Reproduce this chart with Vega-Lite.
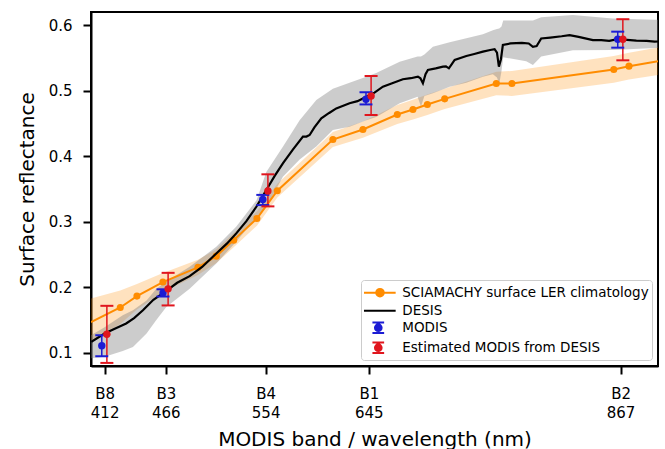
{
  "$schema": "https://vega.github.io/schema/vega-lite/v6.json",
  "width": 567,
  "height": 354,
  "autosize": {"type": "none"},
  "padding": {"left": 91, "top": 12, "right": 7, "bottom": 83},
  "background": "white",
  "config": {
    "font": "DejaVu Sans",
    "view": {"stroke": "black", "strokeWidth": 2},
    "axis": {
      "grid": false,
      "domainColor": "black",
      "domainWidth": 2,
      "tickColor": "black",
      "tickWidth": 2,
      "tickSize": 8,
      "labelFont": "DejaVu Sans",
      "labelFontSize": 15,
      "labelColor": "black",
      "titleFont": "DejaVu Sans",
      "titleFontSize": 20,
      "titleFontWeight": "normal",
      "titleColor": "black"
    },
    "axisX": {"labelPadding": 12, "titlePadding": 9},
    "axisY": {"labelPadding": 11, "titlePadding": 11}
  },
  "datasets": {
    "desis": [
      {"wl": 400.3, "y": 0.1168}, {"wl": 412, "y": 0.1296}, {"wl": 420, "y": 0.136}, {"wl": 431, "y": 0.1449},
      {"wl": 438, "y": 0.153}, {"wl": 445.8, "y": 0.165}, {"wl": 455, "y": 0.181}, {"wl": 466.4, "y": 0.1947},
      {"wl": 476, "y": 0.207}, {"wl": 487, "y": 0.217}, {"wl": 498, "y": 0.231}, {"wl": 510.5, "y": 0.2517},
      {"wl": 520, "y": 0.267}, {"wl": 528.1, "y": 0.2823}, {"wl": 537, "y": 0.301}, {"wl": 545.8, "y": 0.3229},
      {"wl": 554.6, "y": 0.3484}, {"wl": 562, "y": 0.37}, {"wl": 569.2, "y": 0.389}, {"wl": 578, "y": 0.41},
      {"wl": 586.9, "y": 0.4298}, {"wl": 590, "y": 0.43}, {"wl": 592.8, "y": 0.4324}, {"wl": 597, "y": 0.444},
      {"wl": 603.1, "y": 0.4579}, {"wl": 610, "y": 0.466}, {"wl": 616.3, "y": 0.473}, {"wl": 628, "y": 0.4808},
      {"wl": 635, "y": 0.484}, {"wl": 642.8, "y": 0.4908}, {"wl": 650, "y": 0.497}, {"wl": 657.4, "y": 0.5061},
      {"wl": 665, "y": 0.511}, {"wl": 675, "y": 0.5174}, {"wl": 682, "y": 0.519}, {"wl": 688.3, "y": 0.5214},
      {"wl": 690.5, "y": 0.519}, {"wl": 692.7, "y": 0.5113}, {"wl": 695, "y": 0.525}, {"wl": 697.1, "y": 0.5316},
      {"wl": 704, "y": 0.534}, {"wl": 710.4, "y": 0.5366}, {"wl": 713, "y": 0.537}, {"wl": 715.6, "y": 0.5341},
      {"wl": 718, "y": 0.54}, {"wl": 720.7, "y": 0.5469}, {"wl": 731, "y": 0.5529}, {"wl": 738, "y": 0.556},
      {"wl": 745.6, "y": 0.5595}, {"wl": 752, "y": 0.562}, {"wl": 755.9, "y": 0.5632}, {"wl": 758, "y": 0.558},
      {"wl": 759.7, "y": 0.5366}, {"wl": 761.5, "y": 0.548}, {"wl": 763.2, "y": 0.5698}, {"wl": 770, "y": 0.572},
      {"wl": 780, "y": 0.573}, {"wl": 786, "y": 0.572}, {"wl": 789.7, "y": 0.567}, {"wl": 793, "y": 0.568},
      {"wl": 797, "y": 0.5797}, {"wl": 805, "y": 0.581}, {"wl": 815, "y": 0.583}, {"wl": 822, "y": 0.5847},
      {"wl": 830, "y": 0.582}, {"wl": 842.6, "y": 0.577}, {"wl": 850, "y": 0.577}, {"wl": 857, "y": 0.576},
      {"wl": 863.2, "y": 0.5783}, {"wl": 870, "y": 0.578}, {"wl": 880.9, "y": 0.5763}, {"wl": 890, "y": 0.576},
      {"wl": 897, "y": 0.5748}, {"wl": 900, "y": 0.575}
    ],
    "desis_band": [
      {"wl": 400, "lo": 0.092, "hi": 0.127}, {"wl": 412, "lo": 0.094, "hi": 0.139}, {"wl": 428, "lo": 0.103, "hi": 0.1576},
      {"wl": 437, "lo": 0.109, "hi": 0.165}, {"wl": 449, "lo": 0.1296, "hi": 0.18}, {"wl": 457.6, "lo": 0.15, "hi": 0.198},
      {"wl": 466.4, "lo": 0.17, "hi": 0.209}, {"wl": 487, "lo": 0.198, "hi": 0.2313}, {"wl": 510.5, "lo": 0.2365, "hi": 0.2618},
      {"wl": 528, "lo": 0.2695, "hi": 0.2924}, {"wl": 546, "lo": 0.3076, "hi": 0.333}, {"wl": 554.6, "lo": 0.322, "hi": 0.376},
      {"wl": 569.2, "lo": 0.3687, "hi": 0.4145}, {"wl": 584, "lo": 0.395, "hi": 0.455}, {"wl": 598.7, "lo": 0.415, "hi": 0.4858},
      {"wl": 613.3, "lo": 0.44, "hi": 0.503}, {"wl": 628, "lo": 0.445, "hi": 0.512}, {"wl": 642.8, "lo": 0.455, "hi": 0.5214},
      {"wl": 651.5, "lo": 0.46, "hi": 0.527}, {"wl": 672.2, "lo": 0.4808, "hi": 0.5443}, {"wl": 688, "lo": 0.4908, "hi": 0.552},
      {"wl": 691, "lo": 0.476, "hi": 0.552}, {"wl": 694, "lo": 0.492, "hi": 0.555}, {"wl": 701.5, "lo": 0.496, "hi": 0.567},
      {"wl": 716.3, "lo": 0.506, "hi": 0.574}, {"wl": 731, "lo": 0.512, "hi": 0.58}, {"wl": 745.6, "lo": 0.5214, "hi": 0.586},
      {"wl": 754.4, "lo": 0.525, "hi": 0.592}, {"wl": 758, "lo": 0.52, "hi": 0.594}, {"wl": 760, "lo": 0.51, "hi": 0.595},
      {"wl": 762, "lo": 0.53, "hi": 0.598}, {"wl": 763.5, "lo": 0.551, "hi": 0.607}, {"wl": 783.8, "lo": 0.545, "hi": 0.607},
      {"wl": 789.7, "lo": 0.539, "hi": 0.607}, {"wl": 797, "lo": 0.552, "hi": 0.612}, {"wl": 825, "lo": 0.5618, "hi": 0.6153},
      {"wl": 860, "lo": 0.562, "hi": 0.61}, {"wl": 897, "lo": 0.565, "hi": 0.608}, {"wl": 900, "lo": 0.565, "hi": 0.608}
    ],
    "sci": [
      {"wl": 400, "y": 0.147, "lo": 0.117, "hi": 0.183},
      {"wl": 425.8, "y": 0.1693, "lo": 0.144, "hi": 0.195},
      {"wl": 440.5, "y": 0.1866, "lo": 0.166, "hi": 0.205},
      {"wl": 463.4, "y": 0.208, "lo": 0.193, "hi": 0.222},
      {"wl": 494.3, "y": 0.2304, "lo": 0.219, "hi": 0.242},
      {"wl": 510.5, "y": 0.2476, "lo": 0.237, "hi": 0.258},
      {"wl": 525.8, "y": 0.272, "lo": 0.261, "hi": 0.283},
      {"wl": 546.3, "y": 0.305, "lo": 0.294, "hi": 0.316},
      {"wl": 564.3, "y": 0.3473, "lo": 0.337, "hi": 0.358},
      {"wl": 613.3, "y": 0.4255, "lo": 0.414, "hi": 0.437},
      {"wl": 639.8, "y": 0.4408, "lo": 0.428, "hi": 0.453},
      {"wl": 670.1, "y": 0.4637, "lo": 0.449, "hi": 0.478},
      {"wl": 683.9, "y": 0.4713, "lo": 0.456, "hi": 0.486},
      {"wl": 696.6, "y": 0.4789, "lo": 0.463, "hi": 0.494},
      {"wl": 711.9, "y": 0.4875, "lo": 0.472, "hi": 0.503},
      {"wl": 757.4, "y": 0.511, "lo": 0.493, "hi": 0.529},
      {"wl": 771.2, "y": 0.511, "lo": 0.492, "hi": 0.53},
      {"wl": 861, "y": 0.5324, "lo": 0.512, "hi": 0.553},
      {"wl": 874.4, "y": 0.5374, "lo": 0.517, "hi": 0.558},
      {"wl": 900, "y": 0.545, "lo": 0.524, "hi": 0.566}
    ],
    "bars": [
      {"series": "MODIS", "wl": 409.5, "y": 0.111, "lo": 0.095, "hi": 0.127},
      {"series": "MODIS", "wl": 463.5, "y": 0.1915, "lo": 0.186, "hi": 0.197},
      {"series": "MODIS", "wl": 551.5, "y": 0.334, "lo": 0.3255, "hi": 0.341},
      {"series": "MODIS", "wl": 642.5, "y": 0.487, "lo": 0.479, "hi": 0.4976},
      {"series": "MODIS", "wl": 864.5, "y": 0.5785, "lo": 0.5656, "hi": 0.59},
      {"series": "Estimated MODIS from DESIS", "wl": 414, "y": 0.1285, "lo": 0.0847, "hi": 0.1718},
      {"series": "Estimated MODIS from DESIS", "wl": 468, "y": 0.1977, "lo": 0.1724, "hi": 0.2221},
      {"series": "Estimated MODIS from DESIS", "wl": 556, "y": 0.347, "lo": 0.3235, "hi": 0.3724},
      {"series": "Estimated MODIS from DESIS", "wl": 647, "y": 0.4919, "lo": 0.4629, "hi": 0.5224},
      {"series": "Estimated MODIS from DESIS", "wl": 869, "y": 0.5785, "lo": 0.5463, "hi": 0.609}
    ]
  },
  "encoding": {
    "x": {
      "field": "wl",
      "type": "quantitative",
      "scale": {"domain": [400, 900], "nice": false, "zero": false},
      "axis": {
        "values": [412, 466, 554, 645, 867],
        "labelExpr": "datum.value == 412 ? ['B8', '412'] : datum.value == 466 ? ['B3', '466'] : datum.value == 554 ? ['B4', '554'] : datum.value == 645 ? ['B1', '645'] : ['B2', '867']",
        "labelLineHeight": 19,
        "labelOverlap": false,
        "labelFlush": false,
        "title": "MODIS band / wavelength (nm)"
      }
    }
  },
  "layer": [
    {
      "data": {"name": "sci"},
      "mark": {"type": "area", "color": "#ff8c00", "opacity": 0.25, "clip": true},
      "encoding": {
        "y": {
          "field": "lo", "type": "quantitative",
          "scale": {"domain": [0.08, 0.62], "nice": false, "zero": false},
          "axis": {"values": [0.1, 0.2, 0.3, 0.4, 0.5, 0.6], "format": ".1f"},
          "title": "Surface reflectance"
        },
        "y2": {"field": "hi"}
      }
    },
    {
      "data": {"name": "desis_band"},
      "mark": {"type": "area", "color": "#808080", "opacity": 0.4, "clip": true},
      "encoding": {
        "y": {"field": "lo", "type": "quantitative", "scale": {"domain": [0.08, 0.62], "nice": false, "zero": false}, "title": "Surface reflectance"},
        "y2": {"field": "hi"}
      }
    },
    {
      "data": {"name": "sci"},
      "mark": {"type": "line", "color": "#ff8c00", "strokeWidth": 2, "clip": true},
      "encoding": {
        "y": {"field": "y", "type": "quantitative", "scale": {"domain": [0.08, 0.62], "nice": false, "zero": false}, "title": "Surface reflectance"}
      }
    },
    {
      "data": {"name": "sci"},
      "transform": [{"filter": "datum.wl > 401 && datum.wl < 899"}],
      "mark": {"type": "point", "filled": true, "color": "#ff8c00", "opacity": 1, "size": 50},
      "encoding": {
        "y": {"field": "y", "type": "quantitative", "scale": {"domain": [0.08, 0.62], "nice": false, "zero": false}, "title": "Surface reflectance"}
      }
    },
    {
      "data": {"name": "desis"},
      "mark": {"type": "line", "color": "black", "strokeWidth": 2.2, "clip": true},
      "encoding": {
        "y": {"field": "y", "type": "quantitative", "scale": {"domain": [0.08, 0.62], "nice": false, "zero": false}, "title": "Surface reflectance"}
      }
    },
    {
      "data": {"name": "bars"},
      "mark": {"type": "rule", "strokeWidth": 1.5, "opacity": 1},
      "encoding": {
        "y": {"field": "lo", "type": "quantitative", "scale": {"domain": [0.08, 0.62], "nice": false, "zero": false}, "title": "Surface reflectance"},
        "y2": {"field": "hi"},
        "color": {"field": "series", "type": "nominal", "scale": {"domain": ["MODIS", "Estimated MODIS from DESIS"], "range": ["#1c1cd4", "#e0161e"]}, "legend": null}
      }
    },
    {
      "data": {"name": "bars"},
      "mark": {"type": "tick", "orient": "horizontal", "size": 13, "thickness": 2, "opacity": 1},
      "encoding": {
        "y": {"field": "lo", "type": "quantitative", "scale": {"domain": [0.08, 0.62], "nice": false, "zero": false}, "title": "Surface reflectance"},
        "color": {"field": "series", "type": "nominal", "scale": {"domain": ["MODIS", "Estimated MODIS from DESIS"], "range": ["#1c1cd4", "#e0161e"]}, "legend": null}
      }
    },
    {
      "data": {"name": "bars"},
      "mark": {"type": "tick", "orient": "horizontal", "size": 13, "thickness": 2, "opacity": 1},
      "encoding": {
        "y": {"field": "hi", "type": "quantitative", "scale": {"domain": [0.08, 0.62], "nice": false, "zero": false}, "title": "Surface reflectance"},
        "color": {"field": "series", "type": "nominal", "scale": {"domain": ["MODIS", "Estimated MODIS from DESIS"], "range": ["#1c1cd4", "#e0161e"]}, "legend": null}
      }
    },
    {
      "data": {"name": "bars"},
      "mark": {"type": "point", "filled": true, "size": 55, "opacity": 1},
      "encoding": {
        "y": {"field": "y", "type": "quantitative", "scale": {"domain": [0.08, 0.62], "nice": false, "zero": false}, "title": "Surface reflectance"},
        "color": {"field": "series", "type": "nominal", "scale": {"domain": ["MODIS", "Estimated MODIS from DESIS"], "range": ["#1c1cd4", "#e0161e"]}, "legend": null}
      }
    },
    {
      "data": {"name": "bars"},
      "mark": {"type": "point", "filled": true, "opacity": 0},
      "encoding": {
        "y": {"field": "y", "type": "quantitative", "scale": {"domain": [0.08, 0.62], "nice": false, "zero": false}, "title": "Surface reflectance"},
        "fill": {
          "field": "series", "type": "nominal",
          "scale": {"domain": ["SCIAMACHY surface LER climatology", "DESIS", "MODIS", "Estimated MODIS from DESIS"], "range": ["#ff8c00", "black", "#1c1cd4", "#e0161e"]},
          "legend": {"title": null, "orient": "bottom-right", "offset": 6, "padding": 2.7, "rowPadding": 0, "symbolSize": 324, "symbolStrokeWidth": 2, "symbolOpacity": 1, "labelFontSize": 13.5, "labelFont": "DejaVu Sans", "labelColor": "black", "labelOffset": 18.6, "labelLimit": 400, "fillColor": "rgba(255,255,255,0.85)", "strokeColor": "#cccccc", "cornerRadius": 3}
        },
        "stroke": {
          "field": "series", "type": "nominal",
          "scale": {"domain": ["SCIAMACHY surface LER climatology", "DESIS", "MODIS", "Estimated MODIS from DESIS"], "range": ["#ff8c00", "black", "#1c1cd4", "#e0161e"]},
          "legend": {"title": null, "orient": "bottom-right", "offset": 6, "padding": 2.7, "rowPadding": 0, "symbolSize": 324, "symbolStrokeWidth": 2, "symbolOpacity": 1, "labelFontSize": 13.5, "labelFont": "DejaVu Sans", "labelColor": "black", "labelOffset": 18.6, "labelLimit": 400, "fillColor": "rgba(255,255,255,0.85)", "strokeColor": "#cccccc", "cornerRadius": 3}
        },
        "shape": {
          "field": "series", "type": "nominal",
          "scale": {"domain": ["SCIAMACHY surface LER climatology", "DESIS", "MODIS", "Estimated MODIS from DESIS"], "range": [
            "M-1.08,0H2.44M1.12,0A0.42,0.42,0,1,1,0.28,0A0.42,0.42,0,1,1,1.12,0Z",
            "M-1.08,0H2.44",
            "M-0.14,-0.59H1.16M0.51,-0.59V0.59M-0.14,0.59H1.16M0.88,0A0.37,0.37,0,1,1,0.14,0A0.37,0.37,0,1,1,0.88,0Z",
            "M-0.14,-0.59H1.16M0.51,-0.59V0.59M-0.14,0.59H1.16M0.88,0A0.37,0.37,0,1,1,0.14,0A0.37,0.37,0,1,1,0.88,0Z"
          ]},
          "legend": {"title": null, "orient": "bottom-right", "offset": 6, "padding": 2.7, "rowPadding": 0, "symbolSize": 324, "symbolStrokeWidth": 2, "symbolOpacity": 1, "labelFontSize": 13.5, "labelFont": "DejaVu Sans", "labelColor": "black", "labelOffset": 18.6, "labelLimit": 400, "fillColor": "rgba(255,255,255,0.85)", "strokeColor": "#cccccc", "cornerRadius": 3}
        }
      }
    }
  ]
}
